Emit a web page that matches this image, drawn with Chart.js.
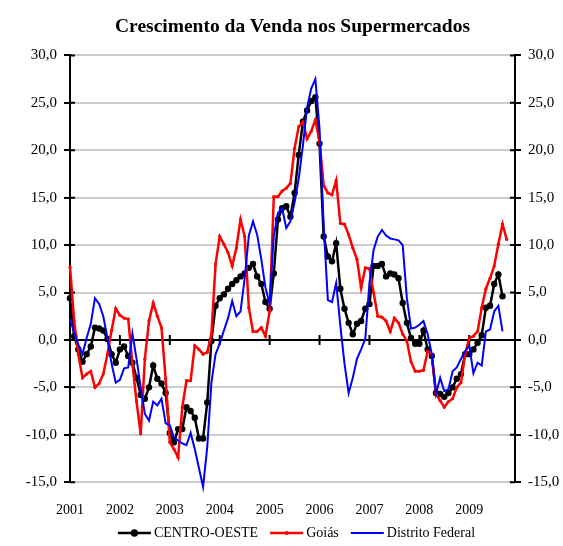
<!DOCTYPE html>
<html>
<head>
<meta charset="utf-8">
<script src="https://cdn.jsdelivr.net/npm/chart.js@4.4.0/dist/chart.umd.min.js"></script>
<style>
  body { margin: 0; background: #fff; }
  #wrap { width: 563px; height: 546px; }
</style>
</head>
<body>
<div id="wrap"><canvas id="myChart" width="563" height="546"></canvas></div>
<script>
// setup
const years = ['2001', '2002', '2003', '2004', '2005', '2006', '2007', '2008', '2009'];
const yTicks = [-15, -10, -5, 0, 5, 10, 15, 20, 25, 30];

// one category per month, Jan 2001 .. Dec 2009
const months = [];
years.forEach(y => {
  for (let m = 1; m <= 12; m++) months.push(y + '-' + m);
});

const centroOeste = [
  4.4, 0.4, -1.0, -2.3, -1.5, -0.7, 1.3, 1.2, 1.0, 0.1, -1.5, -2.4,
  -1.0, -0.7, -1.7, -2.4, -4.0, -5.8, -6.2, -5.0, -2.7, -4.1, -4.6, -5.6,
  -9.8, -10.8, -9.4, -9.4, -7.1, -7.5, -8.2, -10.4, -10.4, -6.6, -0.1, 3.6,
  4.4, 4.8, 5.4, 5.9, 6.3, 6.7, 7.0, 7.6, 8.0, 6.7, 5.9, 4.0,
  3.3, 7.0, 12.7, 13.9, 14.1, 13.0, 15.5, 19.5, 23.0, 24.2, 25.2, 25.6,
  20.7, 10.9, 8.8, 8.3, 10.2, 5.4, 3.3, 1.8, 0.6, 1.7, 2.0, 3.3,
  3.8, 7.8, 7.8, 8.0, 6.7, 7.0, 6.9, 6.5, 3.9, 1.8, 0.2, -0.4,
  -0.4, 1.0, -1.0, -1.7, -5.6, -5.7, -6.0, -5.6, -5.0, -4.1, -3.6, -1.5,
  -1.5, -1.0, -0.3, 0.5, 3.4, 3.6, 5.9, 6.9, 4.6
];

const goias = [
  7.7, 2.0, -1.5, -4.0, -3.6, -3.3, -5.0, -4.6, -3.6, -1.5, 1.0, 3.3,
  2.6, 2.3, 2.2, -2.5, -6.5, -9.9, -2.0, 2.0, 3.9, 2.5, 1.3, -4.1,
  -10.8, -11.5, -12.4, -7.1, -4.3, -4.3, -0.6, -1.0, -1.5, -1.3, 0.6, 8.0,
  10.9, 10.1, 9.2, 7.8, 9.7, 12.7, 10.9, 3.4, 0.9, 0.9, 1.3, 0.4,
  3.0, 15.1, 15.1, 15.7, 16.0, 16.5, 20.2, 22.5, 23.0, 21.2, 22.0, 23.2,
  20.9, 16.3, 15.5, 15.3, 16.8, 12.3, 12.2, 11.1, 9.7, 8.5, 5.5, 7.6,
  7.5, 5.0, 2.5, 2.4, 2.0, 0.9, 2.3, 1.8, 0.6, -0.1, -2.3, -3.3,
  -3.3, -3.2, -1.2, -1.5, -5.7, -6.4, -7.1, -6.5, -6.2, -5.0, -4.5, -1.5,
  0.2, 0.4, 0.9, 3.4, 5.4, 6.5, 7.8, 10.1, 12.2, 10.6
];

const distritoFederal = [
  2.2, 0.8, -0.5, -1.5, 0.2, 1.7, 4.4, 3.8, 2.5, 0.2, -2.5, -4.5,
  -4.2, -3.0, -2.9, 0.7, -2.0, -5.0, -7.8, -8.5, -6.5, -6.9, -6.2, -8.8,
  -9.0, -10.3, -10.6, -10.9, -11.1, -9.8, -11.5, -13.5, -15.5, -11.3, -4.5, -1.5,
  -0.4, 1.0, 2.3, 4.1, 2.5, 3.0, 6.5, 11.0, 12.5, 11.1, 8.5, 5.5,
  3.8, 11.0, 13.4, 13.9, 11.8, 12.5, 14.5, 17.0, 20.5, 24.5, 26.5, 27.5,
  22.3, 12.0, 4.2, 4.0, 6.0, 1.5, -2.5, -5.6, -4.0, -2.0, -1.0, 0.1,
  6.0, 9.5, 10.9, 11.6, 11.0, 10.7, 10.6, 10.5, 10.0, 4.4, 1.2, 1.3,
  1.6, 2.0, 0.6, -1.5, -5.7, -4.0, -5.4, -5.2, -3.3, -2.9, -2.0, -1.2,
  -0.6, -3.5, -2.4, -2.7, 0.9, 1.1, 3.0, 3.6, 0.9
];

const serif = "'Liberation Serif', 'Times New Roman', serif";
Chart.defaults.font.family = serif;
Chart.defaults.font.size = 14;
Chart.defaults.color = '#000';

// zero line with year ticks, plus the inner half of the value-axis ticks
const zeroLine = {
  id: 'zeroLine',
  beforeDatasetsDraw(chart) {
    const { ctx, chartArea, scales } = chart;
    const y0 = scales.y.getPixelForValue(0);
    ctx.save();
    ctx.strokeStyle = '#000';
    ctx.lineWidth = 2;
    ctx.beginPath();
    ctx.moveTo(chartArea.left, y0);
    ctx.lineTo(chartArea.right, y0);
    for (let i = 12; i < months.length; i += 12) {
      const x = scales.x.getPixelForValue(i);
      ctx.moveTo(x, y0 - 5);
      ctx.lineTo(x, y0 + 5);
    }
    yTicks.forEach(v => {
      const y = scales.y.getPixelForValue(v);
      ctx.moveTo(chartArea.left, y);
      ctx.lineTo(chartArea.left + 5, y);
      ctx.moveTo(chartArea.right - 5, y);
      ctx.lineTo(chartArea.right, y);
    });
    ctx.stroke();
    ctx.restore();
  }
};

// legend in one row: line (with marker) then label
const legendRow = {
  id: 'legendRow',
  afterDraw(chart) {
    const { ctx, chartArea } = chart;
    const sets = chart.data.datasets;
    const lineLen = 33, gapText = 3, gapItem = 12;
    ctx.save();
    ctx.font = '14px ' + serif;
    ctx.textBaseline = 'middle';
    const widths = sets.map(d => lineLen + gapText + ctx.measureText(d.label).width);
    const total = widths.reduce((a, b) => a + b, 0) + gapItem * (sets.length - 1);
    let x = (chartArea.left + chartArea.right) / 2 + 4 - total / 2;
    const y = chart.height - 13;
    sets.forEach((d, i) => {
      ctx.strokeStyle = d.borderColor;
      ctx.lineWidth = d.borderWidth;
      ctx.beginPath();
      ctx.moveTo(x, y);
      ctx.lineTo(x + lineLen, y);
      ctx.stroke();
      if (d.pointRadius > 0) {
        ctx.fillStyle = d.borderColor;
        ctx.beginPath();
        ctx.arc(x + lineLen / 2, y, d.pointRadius + 0.5, 0, Math.PI * 2);
        ctx.fill();
      }
      ctx.fillStyle = '#000';
      ctx.fillText(d.label, x + lineLen + gapText, y);
      x += widths[i] + gapItem;
    });
    ctx.restore();
  }
};

const fmt = v => v.toFixed(1).replace('.', ',');

function valueAxis(side, width) {
  return {
    position: side,
    min: -15,
    max: 30,
    afterBuildTicks: s => { s.ticks = yTicks.map(v => ({ value: v })); },
    afterFit: s => { s.width = width; },
    ticks: { padding: 7, callback: fmt, font: { size: 15 } },
    grid: {
      drawOnChartArea: side === 'left',
      color: '#cccccc',
      lineWidth: 2,
      tickColor: '#000',
      tickLength: 6,
      tickWidth: 2
    },
    border: { color: '#000', width: 2 }
  };
}

// config
const config = {
  type: 'line',
  data: {
    labels: months,
    datasets: [
      {
        label: 'CENTRO-OESTE',
        data: centroOeste,
        borderColor: '#000000',
        backgroundColor: '#000000',
        borderWidth: 2.5,
        pointRadius: 3.2,
        pointBorderWidth: 0,
        order: 2
      },
      {
        label: 'Goiás',
        data: goias,
        borderColor: '#ff0000',
        backgroundColor: '#ff0000',
        borderWidth: 2.5,
        pointRadius: 1.6,
        pointBorderWidth: 0,
        order: 1
      },
      {
        label: 'Distrito Federal',
        data: distritoFederal,
        borderColor: '#0000ff',
        backgroundColor: '#0000ff',
        borderWidth: 2,
        pointRadius: 0,
        clip: false,
        order: 0
      }
    ]
  },
  options: {
    responsive: false,
    animation: false,
    layout: { padding: { top: 0, right: 0, bottom: 7, left: 0 } },
    plugins: {
      legend: { display: false },
      tooltip: { enabled: false },
      title: {
        display: true,
        fullSize: false,
        text: 'Crescimento da Venda nos Supermercados',
        color: '#000',
        font: { size: 19.5, weight: 'bold' },
        padding: { top: 15, bottom: 17 }
      }
    },
    scales: {
      x: {
        ticks: {
          autoSkip: false,
          maxRotation: 0,
          padding: 20,
          callback: (v, i) => (i % 12 === 0 ? years[i / 12] : '')
        },
        grid: { display: false, drawTicks: false },
        border: { display: false }
      },
      y: valueAxis('left', 70),
      y2: valueAxis('right', 48)
    }
  },
  plugins: [zeroLine, legendRow]
};

// render init block
const myChart = new Chart(document.getElementById('myChart'), config);
</script>
</body>
</html>
